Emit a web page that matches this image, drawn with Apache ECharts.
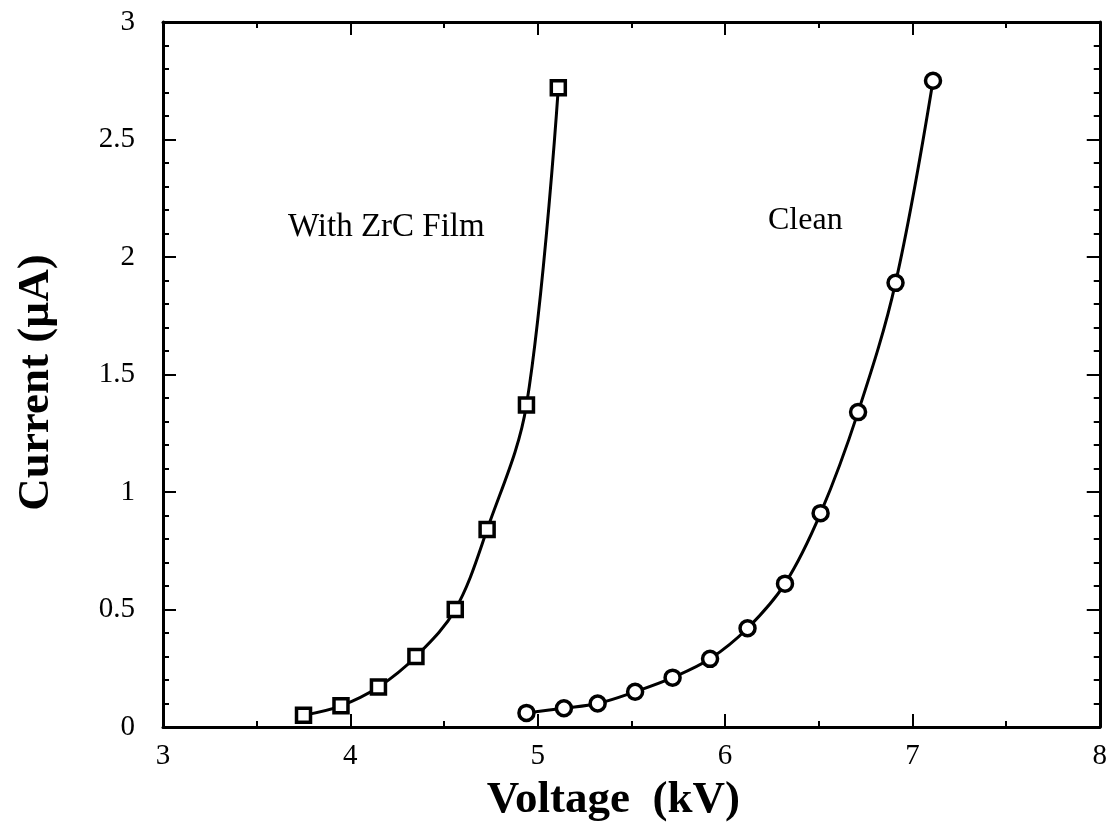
<!DOCTYPE html>
<html>
<head>
<meta charset="utf-8">
<script src="https://cdn.jsdelivr.net/npm/echarts@6/dist/echarts.min.js"></script>
<style>
  html, body { margin: 0; padding: 0; background: #fff; }
  #chart { width: 1110px; height: 836px; }
</style>
</head>
<body>
<div id="chart"></div>
<script>
  // Voltage (kV) / current (uA)
  const zrcVoltage = [3.75, 3.95, 4.15, 4.35, 4.56, 4.73, 4.94, 5.11];
  const zrcCurrent = [0.05, 0.09, 0.17, 0.30, 0.50, 0.84, 1.37, 2.72];
  const cleanVoltage = [4.94, 5.14, 5.32, 5.52, 5.72, 5.92, 6.12, 6.32, 6.51, 6.71, 6.91, 7.11];
  const cleanCurrent = [0.06, 0.08, 0.10, 0.15, 0.21, 0.29, 0.42, 0.61, 0.91, 1.34, 1.89, 2.75];

  const serif = '"Liberation Serif", "DejaVu Serif", serif';
  const pairs = (xs, ys) => xs.map((x, i) => [x, ys[i]]);

  const tickAxis = (extra, minorSplit) => Object.assign({
    axisLine: { show: true, onZero: false, lineStyle: { color: '#000', width: 3 } },
    axisTick: { show: true, inside: true, length: 13, lineStyle: { color: '#000', width: 2 } },
    minorTick: { show: true, splitNumber: minorSplit, length: 6, lineStyle: { color: '#000', width: 2 } },
    splitLine: { show: false },
    minorSplitLine: { show: false }
  }, extra);

  const chart = echarts.init(document.getElementById('chart'));
  chart.setOption({
    backgroundColor: '#fff',
    animation: false,
    grid: { left: 163, right: 10, top: 22, bottom: 109 },
    xAxis: [
      tickAxis({
        type: 'value', min: 3, max: 8, interval: 1, position: 'bottom',
        axisLabel: { color: '#000', fontFamily: serif, fontSize: 29, margin: 15 },
        name: 'Voltage  (kV)', nameLocation: 'middle', nameGap: 51,
        nameTextStyle: { color: '#000', fontFamily: serif, fontSize: 45, fontWeight: 'bold', padding: [0, 36, 0, 0] }
      }, 2),
      tickAxis({
        type: 'value', min: 3, max: 8, interval: 1, position: 'top',
        axisLabel: { show: false }
      }, 2)
    ],
    yAxis: [
      tickAxis({
        type: 'value', min: 0, max: 3, interval: 0.5, position: 'left',
        axisLabel: { color: '#000', fontFamily: serif, fontSize: 29, margin: 28 },
        name: 'Current (\u00b5A)', nameLocation: 'middle', nameGap: 104, nameRotate: 90,
        nameTextStyle: { color: '#000', fontFamily: serif, fontSize: 45, fontWeight: 'bold', padding: [0, 16, 0, 0] }
      }, 5),
      tickAxis({
        type: 'value', min: 0, max: 3, interval: 0.5, position: 'right',
        axisLabel: { show: false }
      }, 5)
    ],
    series: [
      {
        name: 'With ZrC Film',
        type: 'line',
        data: pairs(zrcVoltage, zrcCurrent),
        smooth: 0.35,
        symbol: 'rect',
        symbolSize: 14,
        showAllSymbol: true,
        lineStyle: { color: '#000', width: 3 },
        itemStyle: { color: '#fff', borderColor: '#000', borderWidth: 3.5 },
        z: 3
      },
      {
        name: 'Clean',
        type: 'line',
        data: pairs(cleanVoltage, cleanCurrent),
        smooth: 0.35,
        symbol: 'circle',
        symbolSize: 15,
        showAllSymbol: true,
        lineStyle: { color: '#000', width: 3 },
        itemStyle: { color: '#fff', borderColor: '#000', borderWidth: 3.5 },
        z: 3
      }
    ],
    graphic: [
      {
        type: 'text', left: 288, top: 211,
        style: { text: 'With ZrC Film', fill: '#000', font: '33px ' + serif }
      },
      {
        type: 'text', left: 768, top: 205,
        style: { text: 'Clean', fill: '#000', font: '32px ' + serif }
      }
    ]
  });
</script>
</body>
</html>
